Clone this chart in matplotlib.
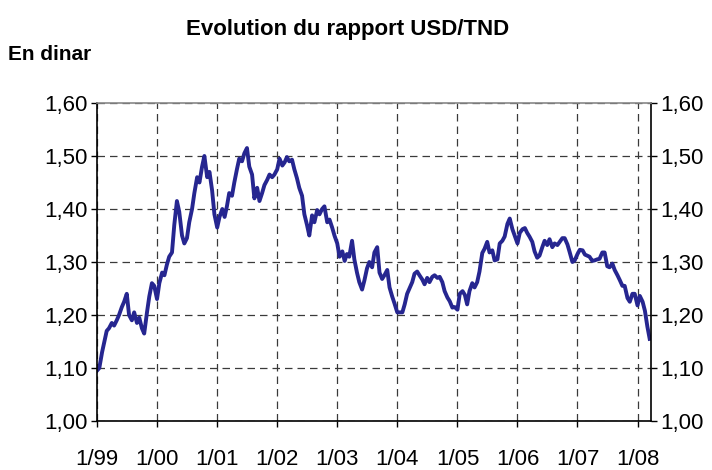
import pandas as pd
import matplotlib
matplotlib.use("Agg")
import matplotlib.pyplot as plt
import matplotlib.dates as mdates
from matplotlib.ticker import FuncFormatter, MultipleLocator

plt.rcParams["font.family"] = ["Liberation Sans", "DejaVu Sans"]

v1999 = [1.095, 1.100, 1.130, 1.150, 1.170, 1.175, 1.185, 1.180, 1.190, 1.200, 1.215, 1.225,
         1.240, 1.200, 1.190, 1.205, 1.185, 1.195, 1.175, 1.165, 1.205, 1.235, 1.260, 1.255]
v2000 = [1.230, 1.260, 1.280, 1.275, 1.295, 1.310, 1.318, 1.370, 1.415, 1.395, 1.350, 1.335,
         1.345, 1.375, 1.400, 1.430, 1.460, 1.450, 1.480, 1.500, 1.460, 1.470, 1.435, 1.390]
v2001 = [1.365, 1.385, 1.400, 1.385, 1.405, 1.430, 1.425, 1.450, 1.475, 1.495, 1.490, 1.505,
         1.515, 1.480, 1.465, 1.420, 1.440, 1.415, 1.430, 1.445, 1.455, 1.465, 1.460, 1.465]
v2002 = [1.475, 1.495, 1.482, 1.488, 1.498, 1.490, 1.493, 1.475, 1.458, 1.440, 1.425, 1.390,
         1.370, 1.350, 1.388, 1.375, 1.398, 1.390, 1.400, 1.405, 1.375, 1.380, 1.365, 1.350]
v2003 = [1.335, 1.310, 1.320, 1.302, 1.315, 1.310, 1.340, 1.305, 1.280, 1.262, 1.248, 1.265,
         1.288, 1.300, 1.290, 1.318, 1.328, 1.280, 1.268, 1.275, 1.285, 1.252, 1.235, 1.222]
v2004 = [1.205, 1.205, 1.205, 1.220, 1.240, 1.250, 1.262, 1.278, 1.282, 1.275, 1.267, 1.258,
         1.270, 1.262, 1.272, 1.275, 1.270, 1.272, 1.262, 1.245, 1.233, 1.226, 1.214, 1.215]
v2005 = [1.210, 1.240, 1.245, 1.238, 1.220, 1.245, 1.260, 1.252, 1.262, 1.282, 1.317, 1.325,
         1.338, 1.318, 1.322, 1.303, 1.305, 1.335, 1.340, 1.348, 1.372, 1.382, 1.362, 1.350]
v2006 = [1.335, 1.355, 1.362, 1.364, 1.355, 1.348, 1.338, 1.320, 1.308, 1.312, 1.328, 1.340,
         1.332, 1.343, 1.328, 1.335, 1.332, 1.338, 1.345, 1.345, 1.333, 1.318, 1.300, 1.303]
v2007 = [1.315, 1.323, 1.322, 1.314, 1.312, 1.310, 1.302, 1.303, 1.305, 1.306, 1.318, 1.318,
         1.292, 1.290, 1.297, 1.285, 1.275, 1.266, 1.255, 1.255, 1.232, 1.225, 1.240, 1.240]
v2008 = [1.218, 1.236, 1.225, 1.208, 1.178, 1.155]

usd_tnd = v1999 + v2000 + v2001 + v2002 + v2003 + v2004 + v2005 + v2006 + v2007 + v2008
dates = pd.date_range("1999-01-01", periods=len(usd_tnd), freq="SMS")

title = "Evolution du rapport USD/TND"
unit_label = "En dinar"

fig = plt.figure(figsize=(7.12, 4.70), dpi=100)
ax = fig.add_axes([97 / 712, 49 / 470, 554 / 712, 318 / 470])

ax.plot(dates, usd_tnd, color="#262690", lw=2.8, solid_joinstyle="round")

ax.set_ylim(1.0, 1.6)
ax.set_xlim(pd.Timestamp("1999-01-01"), dates[-1] + pd.Timedelta(days=8))
ax.yaxis.set_major_locator(MultipleLocator(0.1))
ax.yaxis.set_major_formatter(FuncFormatter(lambda v, p: f"{v:.2f}".replace(".", ",")))
ax.xaxis.set_major_locator(mdates.YearLocator())
ax.xaxis.set_major_formatter(FuncFormatter(
    lambda v, p: f"{mdates.num2date(v).month}/{mdates.num2date(v):%y}"))

ax.grid(True, linestyle=(0, (6, 4)), color="#3a3a3a", lw=0.9)
ax.tick_params(axis="y", which="major", left=True, right=True, labelleft=True,
               labelright=True, direction="out", length=4.5, width=1,
               labelsize=16, pad=2)
ax.tick_params(axis="x", direction="out", length=4.5, width=1, labelsize=16, pad=16)

for side in ["left", "right", "bottom"]:
    ax.spines[side].set_color("black")
    ax.spines[side].set_linewidth(1.2)
ax.spines["top"].set_color("#888888")
ax.spines["top"].set_linewidth(1.2)

fig.text(348 / 712, 1 - 29 / 470, title, ha="center", va="center",
         fontsize=16, fontweight="bold")
fig.text(8 / 712, 1 - 55 / 470, unit_label, ha="left", va="center",
         fontsize=15, fontweight="bold")

fig.savefig("out.png", dpi=100)
